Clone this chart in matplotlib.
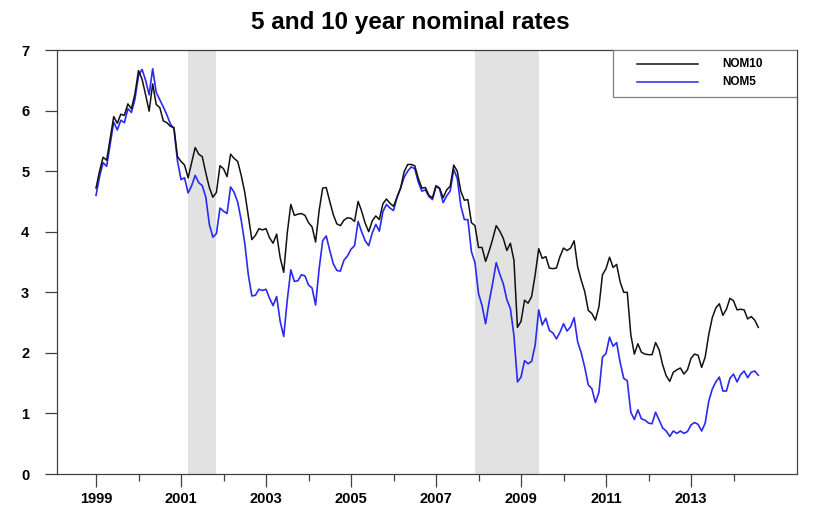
import numpy as np
import matplotlib
matplotlib.use("Agg")
import matplotlib.pyplot as plt
from matplotlib.patches import Rectangle
from matplotlib.lines import Line2D
from matplotlib import font_manager

plt.rcParams['font.family'] = ['Liberation Sans', 'DejaVu Sans']
_names = {f.name for f in font_manager.fontManager.ttflist}
tick_family = ['Liberation Sans Narrow', 'Liberation Sans'] if 'Liberation Sans Narrow' in _names else ['Liberation Sans']
narrow = 'Liberation Sans Narrow' in _names

title = "5 and 10 year nominal rates"
series_names = ["NOM10", "NOM5"]
start_year = 1999  # monthly data starting January 1999

nom10 = [
    4.72, 5.00, 5.23, 5.18, 5.54, 5.90, 5.79, 5.94, 5.92, 6.11, 6.03, 6.28,
    6.66, 6.52, 6.26, 5.99, 6.44, 6.10, 6.05, 5.83, 5.80, 5.74, 5.72, 5.24,
    5.16, 5.10, 4.89, 5.14, 5.39, 5.28, 5.24, 4.97, 4.73, 4.57, 4.65, 5.09,
    5.04, 4.91, 5.28, 5.21, 5.16, 4.93, 4.65, 4.26, 3.87, 3.94, 4.05, 4.03,
    4.05, 3.90, 3.81, 3.96, 3.57, 3.33, 3.98, 4.45, 4.27, 4.29, 4.30, 4.27,
    4.15, 4.08, 3.83, 4.35, 4.72, 4.73, 4.50, 4.28, 4.13, 4.10, 4.19, 4.23,
    4.22, 4.17, 4.50, 4.34, 4.14, 4.00, 4.18, 4.26, 4.20, 4.46, 4.54, 4.47,
    4.42, 4.57, 4.72, 4.99, 5.11, 5.11, 5.09, 4.88, 4.72, 4.73, 4.60, 4.56,
    4.76, 4.72, 4.56, 4.69, 4.75, 5.10, 5.00, 4.67, 4.52, 4.53, 4.15, 4.10,
    3.74, 3.74, 3.51, 3.68, 3.88, 4.10, 4.01, 3.89, 3.69, 3.81, 3.53, 2.42,
    2.52, 2.87, 2.82, 2.93, 3.29, 3.72, 3.56, 3.59, 3.40, 3.39, 3.40, 3.59,
    3.73, 3.69, 3.73, 3.85, 3.42, 3.20, 3.01, 2.70, 2.65, 2.54, 2.76, 3.29,
    3.39, 3.58, 3.41, 3.46, 3.17, 3.00, 3.00, 2.30, 1.98, 2.15, 2.01, 1.98,
    1.97, 1.97, 2.17, 2.05, 1.80, 1.62, 1.53, 1.68, 1.72, 1.75, 1.65, 1.72,
    1.91, 1.98, 1.96, 1.76, 1.93, 2.30, 2.58, 2.74, 2.81, 2.62, 2.72, 2.90,
    2.86, 2.71, 2.72, 2.71, 2.56, 2.60, 2.54, 2.42,
]

nom5 = [
    4.60, 4.91, 5.14, 5.08, 5.44, 5.81, 5.68, 5.84, 5.80, 6.03, 5.97, 6.19,
    6.58, 6.68, 6.50, 6.26, 6.69, 6.30, 6.18, 6.06, 5.93, 5.78, 5.70, 5.17,
    4.86, 4.89, 4.64, 4.76, 4.93, 4.81, 4.76, 4.57, 4.12, 3.91, 3.97, 4.39,
    4.34, 4.30, 4.74, 4.65, 4.49, 4.19, 3.81, 3.29, 2.94, 2.95, 3.05, 3.03,
    3.05, 2.90, 2.78, 2.93, 2.52, 2.27, 2.87, 3.37, 3.18, 3.19, 3.29, 3.27,
    3.12, 3.07, 2.79, 3.39, 3.85, 3.93, 3.69, 3.47, 3.36, 3.35, 3.53, 3.60,
    3.71, 3.77, 4.17, 4.00, 3.85, 3.77, 3.98, 4.12, 4.01, 4.33, 4.45, 4.39,
    4.35, 4.57, 4.72, 4.90, 5.00, 5.07, 5.04, 4.82, 4.67, 4.69, 4.58, 4.53,
    4.75, 4.71, 4.48, 4.59, 4.67, 5.03, 4.88, 4.43, 4.20, 4.20, 3.67, 3.49,
    2.98, 2.78, 2.48, 2.84, 3.15, 3.49, 3.30, 3.14, 2.88, 2.73, 2.29, 1.52,
    1.60, 1.87, 1.82, 1.86, 2.13, 2.71, 2.46, 2.57, 2.37, 2.33, 2.23, 2.34,
    2.48, 2.36, 2.43, 2.58, 2.18, 2.00, 1.76, 1.47, 1.41, 1.18, 1.35, 1.93,
    1.99, 2.26, 2.11, 2.17, 1.84, 1.58, 1.54, 1.02, 0.90, 1.06, 0.91, 0.89,
    0.84, 0.83, 1.02, 0.89, 0.76, 0.71, 0.62, 0.71, 0.67, 0.71, 0.67, 0.70,
    0.81, 0.85, 0.82, 0.71, 0.84, 1.20, 1.40, 1.52, 1.60, 1.37, 1.37, 1.58,
    1.65, 1.52, 1.64, 1.70, 1.59, 1.68, 1.70, 1.63,
]

# recession periods (decimal years)
recessions = [(2001 + 2/12, 2001 + 10/12), (2007 + 11/12, 2009 + 5/12)]

major_ticks = [1999, 2001, 2003, 2005, 2007, 2009, 2011, 2013]
minor_ticks = [2000, 2002, 2004, 2006, 2008, 2010, 2012, 2014]
y_ticks = [0, 1, 2, 3, 4, 5, 6, 7]

t = start_year + np.arange(len(nom10)) / 12.0

fig = plt.figure(figsize=(8.2, 5.18), dpi=100)
fig.patch.set_facecolor('white')
ax = fig.add_axes([57/820, 44/518, 740/820, 424/518])

for a, b in recessions:
    ax.axvspan(a, b, color='#e2e2e2', lw=0, zorder=0)

c10 = '#111111'
c5 = '#2a2af0'
ax.plot(t, nom10, color=c10, lw=1.1, zorder=3)
ax.plot(t, nom5, color=c5, lw=1.2, zorder=2)

ax.set_xlim(1998.082, 2015.494)
ax.set_ylim(0, 7)
ax.set_xticks(major_ticks)
ax.set_xticks(minor_ticks, minor=True)
ax.set_yticks(y_ticks)

tsize = 12 if narrow else 10.5
ax.set_xticklabels([str(y) for y in major_ticks], family=tick_family,
                   fontsize=tsize, fontweight='bold')
ax.set_yticklabels([str(v) for v in y_ticks], family=tick_family,
                   fontsize=tsize, fontweight='bold')

ax.tick_params(axis='x', which='major', direction='out', length=9, width=0.9,
               color='#404040', pad=4)
ax.tick_params(axis='x', which='minor', direction='out', length=5, width=0.9,
               color='#404040')
ax.tick_params(axis='y', which='major', direction='out', length=9, width=0.9,
               color='#404040', pad=11)
for s in ax.spines.values():
    s.set_color('#404040')
    s.set_linewidth(0.9)

fig.text(0.5, 1 - 22/518, title, ha='center', va='center',
         fontsize=17.5, fontweight='bold')

# legend box
lx0, ly0 = (613 - 57) / 740, (474 - 97) / 424
ax.add_patch(Rectangle((lx0, ly0), 1 - lx0, 1 - ly0, transform=ax.transAxes,
                       facecolor='white', edgecolor='#808080', lw=0.9, zorder=5))
hx0, hx1 = (637 - 57) / 740, (698 - 57) / 740
rows = [(474 - 64) / 424, (474 - 82) / 424]
for name, col, yy in zip(series_names, [c10, c5], rows):
    ax.add_line(Line2D([hx0, hx1], [yy, yy], transform=ax.transAxes,
                       color=col, lw=1.1, zorder=6))
    ax.text((722 - 57) / 740, yy, name, transform=ax.transAxes, ha='left',
            va='center', fontsize=9.5 if narrow else 8.5, fontweight='bold',
            family=tick_family, zorder=6)

fig.savefig('out.png', dpi=100, facecolor='white')
